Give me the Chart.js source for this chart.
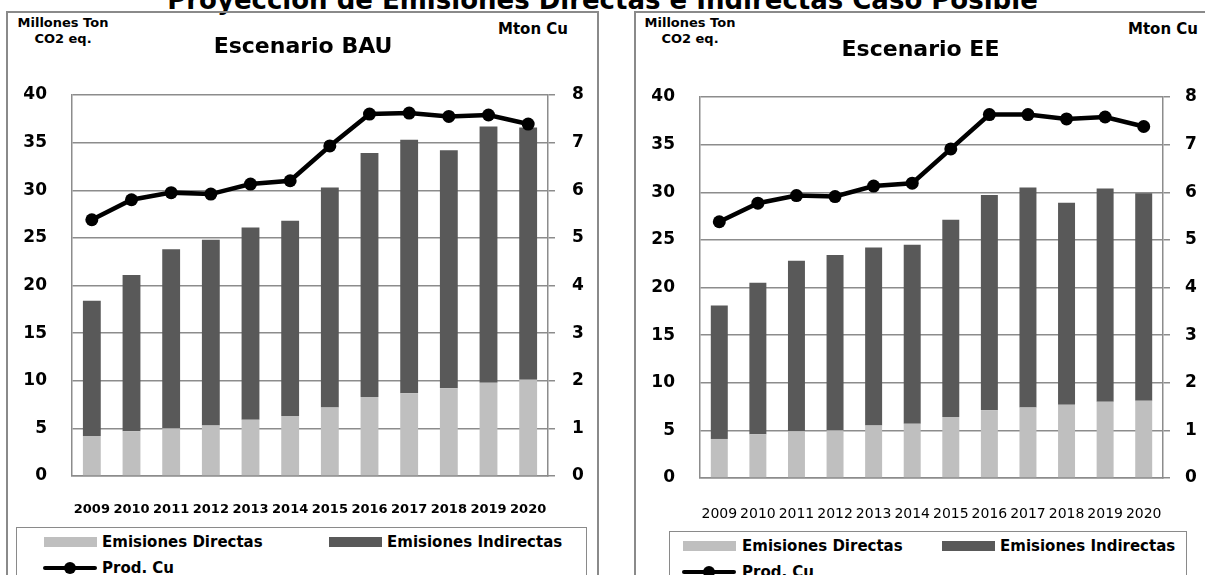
<!DOCTYPE html>
<html>
<head>
<meta charset="utf-8">
<script src="https://cdn.jsdelivr.net/npm/chart.js@4.4.0/dist/chart.umd.min.js"></script>
<style>
  body { margin: 0; width: 1205px; height: 575px; overflow: hidden; background: #fff;
         font-family: "DejaVu Sans", sans-serif; position: relative; color: #000; }
  .frame { position: absolute; border: 2px solid #8a8a8a; }
  .maintitle { position: absolute; left: 0; width: 1205px; top: -13px; text-align: center;
               font-size: 26px; font-weight: bold; line-height: 26px; white-space: nowrap; }
  .unit { position: absolute; font-size: 13px; font-weight: bold; line-height: 16px; white-space: nowrap; text-align: center; }
  .legend { position: absolute; border: 1.5px solid #8a8a8a; background: #fff; }
  .lg-text { position: absolute; font-size: 15px; font-weight: bold; line-height: 18px; white-space: nowrap; }
  .lg-box { position: absolute; height: 10px; width: 53px; }
  .lg-line { position: absolute; height: 4px; width: 54px; background: #000; border-radius: 2px; }
  .lg-dot { position: absolute; width: 12px; height: 12px; border-radius: 6px; background: #000; }
  canvas { position: absolute; }
</style>
</head>
<body>
<div class="maintitle">Proyección de Emisiones Directas e Indirectas Caso Posible</div>

<div class="frame" style="left:6px; top:11px; width:589px; height:600px;"></div>
<div class="frame" style="left:634px; top:11px; width:600px; height:600px;"></div>

<div class="unit" style="left:16px; top:15px; width:94px;">Millones Ton<br>CO2 eq.</div>
<div class="unit" style="left:498px; top:21px; font-size:15px;">Mton Cu</div>
<div class="unit" style="left:643px; top:15px; width:94px;">Millones Ton<br>CO2 eq.</div>
<div class="unit" style="left:1128px; top:21px; font-size:15px;">Mton Cu</div>

<canvas id="chartBAU" width="590" height="515" style="left:8px; top:12px;"></canvas>
<canvas id="chartEE" width="569" height="519" style="left:636px; top:12px;"></canvas>

<div id="legendBAU"></div>
<div id="legendEE"></div>

<script>
// categories
const years = ['2009', '2010', '2011', '2012', '2013', '2014', '2015', '2016', '2017', '2018', '2019', '2020'];

// Escenario BAU (Millones Ton CO2 eq. / Mton Cu)
const bauDirectas   = [4.2, 4.7, 5.0, 5.3, 5.9, 6.3, 7.2, 8.3, 8.7, 9.2, 9.8, 10.1];
const bauIndirectas = [14.2, 16.4, 18.8, 19.5, 20.2, 20.5, 23.1, 25.6, 26.6, 25.0, 26.9, 26.5];
const bauProdCu     = [5.38, 5.80, 5.95, 5.92, 6.13, 6.20, 6.93, 7.60, 7.62, 7.55, 7.58, 7.39];

// Escenario EE
const eeDirectas   = [4.1, 4.6, 4.9, 5.0, 5.5, 5.7, 6.4, 7.1, 7.4, 7.7, 8.0, 8.1];
const eeIndirectas = [14.0, 15.9, 17.9, 18.4, 18.7, 18.8, 20.7, 22.6, 23.1, 21.2, 22.4, 21.8];
const eeProdCu     = [5.38, 5.77, 5.93, 5.91, 6.13, 6.19, 6.91, 7.63, 7.63, 7.54, 7.58, 7.38];

// axis ranges
const emisTicks = { min: 0, max: 40, step: 5 };
const cuTicks = { min: 0, max: 8, step: 1 };

const seriesNames = ['Emisiones Directas', 'Emisiones Indirectas', 'Prod. Cu'];
const colDirectas = '#bfbfbf';
const colIndirectas = '#595959';
const gridCol = '#8c8c8c';

function makeChart(id, title, directas, indirectas, prod, lay) {
  const ctx = document.getElementById(id).getContext('2d');
  return new Chart(ctx, {
    data: {
      labels: years,
      datasets: [
        {
          type: 'line', label: seriesNames[2], data: prod, yAxisID: 'y1', order: 0,
          borderColor: '#000', backgroundColor: '#000', borderWidth: 4.5,
          pointRadius: 6.5, pointBackgroundColor: '#000', pointBorderWidth: 0, tension: 0
        },
        {
          type: 'bar', label: seriesNames[0], data: directas, yAxisID: 'y', order: 1,
          backgroundColor: colDirectas, barPercentage: lay.barPct, categoryPercentage: 1
        },
        {
          type: 'bar', label: seriesNames[1], data: indirectas, yAxisID: 'y', order: 1,
          backgroundColor: colIndirectas, barPercentage: lay.barPct, categoryPercentage: 1
        }
      ]
    },
    options: {
      responsive: false,
      devicePixelRatio: 1,
      animation: false,
      layout: { padding: 0 },
      plugins: {
        legend: { display: false },
        tooltip: { enabled: false },
        title: {
          display: true, text: title, color: '#000',
          font: { family: 'DejaVu Sans', size: 22, weight: 'bold', lineHeight: 1.2 },
          padding: { top: lay.titleTop, bottom: lay.titleBottom }
        }
      },
      scales: {
        x: {
          stacked: true,
          grid: { display: false, drawTicks: false },
          border: { display: true, color: gridCol, width: 1.5 },
          ticks: {
            color: '#000', maxRotation: 0, autoSkip: false, padding: lay.xPad,
            font: { family: 'DejaVu Sans', size: lay.xFont, weight: lay.xWeight }
          },
          afterFit: s => { s.height = lay.xH; }
        },
        y: {
          stacked: true, position: 'left',
          min: emisTicks.min, max: emisTicks.max,
          grid: { color: gridCol, lineWidth: 1.5, drawTicks: false },
          border: { display: true, color: gridCol, width: 1.5 },
          ticks: {
            stepSize: emisTicks.step, color: '#000', padding: 25,
            font: { family: 'DejaVu Sans', size: 17, weight: 'bold' }
          },
          afterFit: s => { s.width = lay.yW; }
        },
        y1: {
          position: 'right',
          min: cuTicks.min, max: cuTicks.max,
          grid: { drawOnChartArea: false, color: gridCol, lineWidth: 1.5, tickLength: 7 },
          border: { display: true, color: gridCol, width: 1.5 },
          ticks: {
            stepSize: cuTicks.step, color: '#000', padding: lay.y1Pad,
            font: { family: 'DejaVu Sans', size: 17, weight: 'bold' }
          },
          afterFit: s => { s.width = lay.y1W; }
        }
      }
    }
  });
}

const bauChart = makeChart('chartBAU', 'Escenario BAU', bauDirectas, bauIndirectas, bauProdCu,
  { titleTop: 22, titleBottom: 34.6, yW: 64, y1W: 50, y1Pad: 17, xH: 51, xPad: 26, xFont: 13, xWeight: 'bold', barPct: 0.45 });
const eeChart = makeChart('chartEE', 'Escenario EE', eeDirectas, eeIndirectas, eeProdCu,
  { titleTop: 25, titleBottom: 33.6, yW: 64, y1W: 42, y1Pad: 15, xH: 53, xPad: 28, xFont: 14, xWeight: 'normal', barPct: 0.44 });

// legend boxes built from the chart datasets
function buildLegend(el, chart, box, col2Swatch, col2Text) {
  el.className = 'legend';
  el.style.left = box.left + 'px';
  el.style.top = box.top + 'px';
  el.style.width = box.width + 'px';
  el.style.height = '80px';
  const ds = chart.data.datasets;
  const rowY = [14, 40];
  const put = (html) => { el.insertAdjacentHTML('beforeend', html); };
  // Emisiones Directas
  put(`<div class="lg-box" style="left:${box.sw1}px; top:${rowY[0] - 5}px; background:${ds[1].backgroundColor}"></div>`);
  put(`<div class="lg-text" style="left:${box.tx1}px; top:${rowY[0] - 9}px;">${ds[1].label}</div>`);
  // Emisiones Indirectas
  put(`<div class="lg-box" style="left:${col2Swatch}px; top:${rowY[0] - 5}px; background:${ds[2].backgroundColor}"></div>`);
  put(`<div class="lg-text" style="left:${col2Text}px; top:${rowY[0] - 9}px;">${ds[2].label}</div>`);
  // Prod. Cu
  put(`<div class="lg-line" style="left:${box.sw1 - 1}px; top:${rowY[1] - 2}px;"></div>`);
  put(`<div class="lg-dot" style="left:${box.sw1 + 20}px; top:${rowY[1] - 6}px;"></div>`);
  put(`<div class="lg-text" style="left:${box.tx1}px; top:${rowY[1] - 9}px;">${ds[0].label}</div>`);
}

buildLegend(document.getElementById('legendBAU'), bauChart,
  { left: 16, top: 527, width: 569, sw1: 27, tx1: 85 }, 312, 370);
buildLegend(document.getElementById('legendEE'), eeChart,
  { left: 669, top: 531, width: 516, sw1: 13, tx1: 72 }, 272, 330);
</script>
</body>
</html>
